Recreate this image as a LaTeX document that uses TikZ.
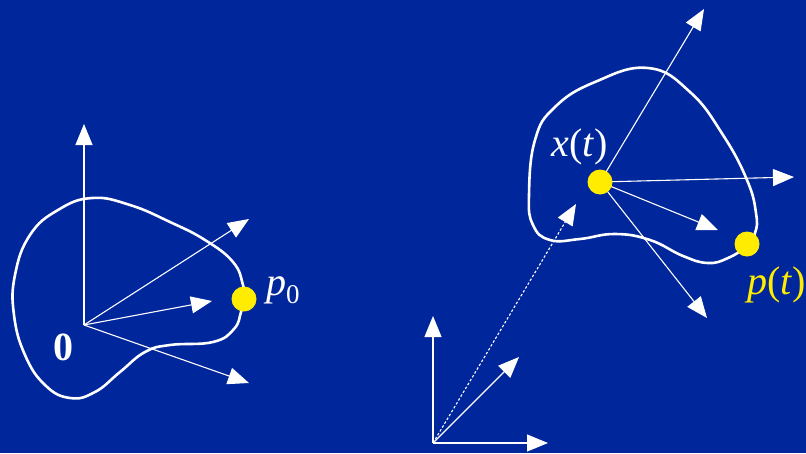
\documentclass[tikz,border=0pt]{standalone}
\usepackage{fontspec}
\setmainfont{Liberation Serif}
\usetikzlibrary{arrows.meta}
\definecolor{bg}{RGB}{0,38,155}
\definecolor{dotyellow}{RGB}{255,236,0}
\tikzset{
  vec/.style={white, line width=1.1pt, -{Triangle[length=21pt,width=17pt]}},
  blob/.style={white, line width=2.6pt},
  ydot/.style={circle, fill=dotyellow, draw=none, minimum size=25pt, inner sep=0pt},
  lbl/.style={white, font=\fontsize{40}{40}\selectfont, inner sep=0pt},
}
\begin{document}
\begin{tikzpicture}[x=1pt,y=-1pt]
\useasboundingbox (0,0) rectangle (806,453);
\clip (0,0) rectangle (806,453);
\fill[bg] (0,0) rectangle (806,453);

% ---- left figure ----
\coordinate (O) at (84,325);
\coordinate (a1) at (84,124);
\coordinate (a2) at (249,219);
\coordinate (a3) at (212,301);
\coordinate (a4) at (249,383);
\draw[blob] plot[smooth cycle, tension=0.75] coordinates {
  (92,198) (58,210) (30,235) (15,275) (14,315) (25,355) (45,385) (70,398)
  (95,392) (120,372) (145,352) (170,345) (213,342) (234,329) (241,312)
  (244,299) (243,285) (233,262) (205,240) (170,222) (130,205)};
\draw[vec] (O) -- (a1);
\draw[vec] (O) -- (a2);
\draw[vec] (O) -- (a3);
\draw[vec] (O) -- (a4);
\node[ydot] (p0) at (244,299) {};
\node[lbl, anchor=west] (p0l) at (266,290) {\textit{p}\raisebox{-0.2em}{\fontsize{27}{27}\selectfont 0}};
\node[lbl] (zero) at (63,347) {\textbf{0}};

% ---- right figure ----
\coordinate (W) at (433,443);
\coordinate (w1) at (433,316);
\coordinate (w2) at (548,443);
\coordinate (w3) at (519,357);
\coordinate (xe) at (576,204);
\draw[blob] plot[smooth cycle, tension=0.75] coordinates {
  (529,195) (535,140) (555,107) (595,82) (648,68) (690,92)
  (723,135) (747,180) (756,213) (755,233) (745,247) (728,258) (708,263)
  (683,256) (650,240) (615,234) (580,239) (550,240) (533,225)};
\draw[vec] (W) -- (w1);
\draw[vec] (W) -- (w2);
\draw[vec] (W) -- (w3);
\draw[white, line width=1.1pt, dash pattern=on 2.5pt off 2pt, -{Triangle[length=21pt,width=17pt]}] (W) -- (xe);
\coordinate (xc) at (600,182);
\coordinate (b1) at (704,9);
\coordinate (b2) at (794,177);
\coordinate (b3) at (718,230);
\coordinate (b4) at (707,318);
\draw[vec] (xc) -- (b1);
\draw[vec] (xc) -- (b2);
\draw[vec] (xc) -- (b3);
\draw[vec] (xc) -- (b4);
\node[ydot] (xt) at (xc) {};
\node[ydot] (pt) at (747,244) {};
\node[lbl] (xtl) at (580,147) {\textit{x}(\textit{t})};
\node[lbl, text=dotyellow, anchor=west] (ptl) at (747,285) {\textit{p}(\textit{t})};
\end{tikzpicture}
\end{document}
